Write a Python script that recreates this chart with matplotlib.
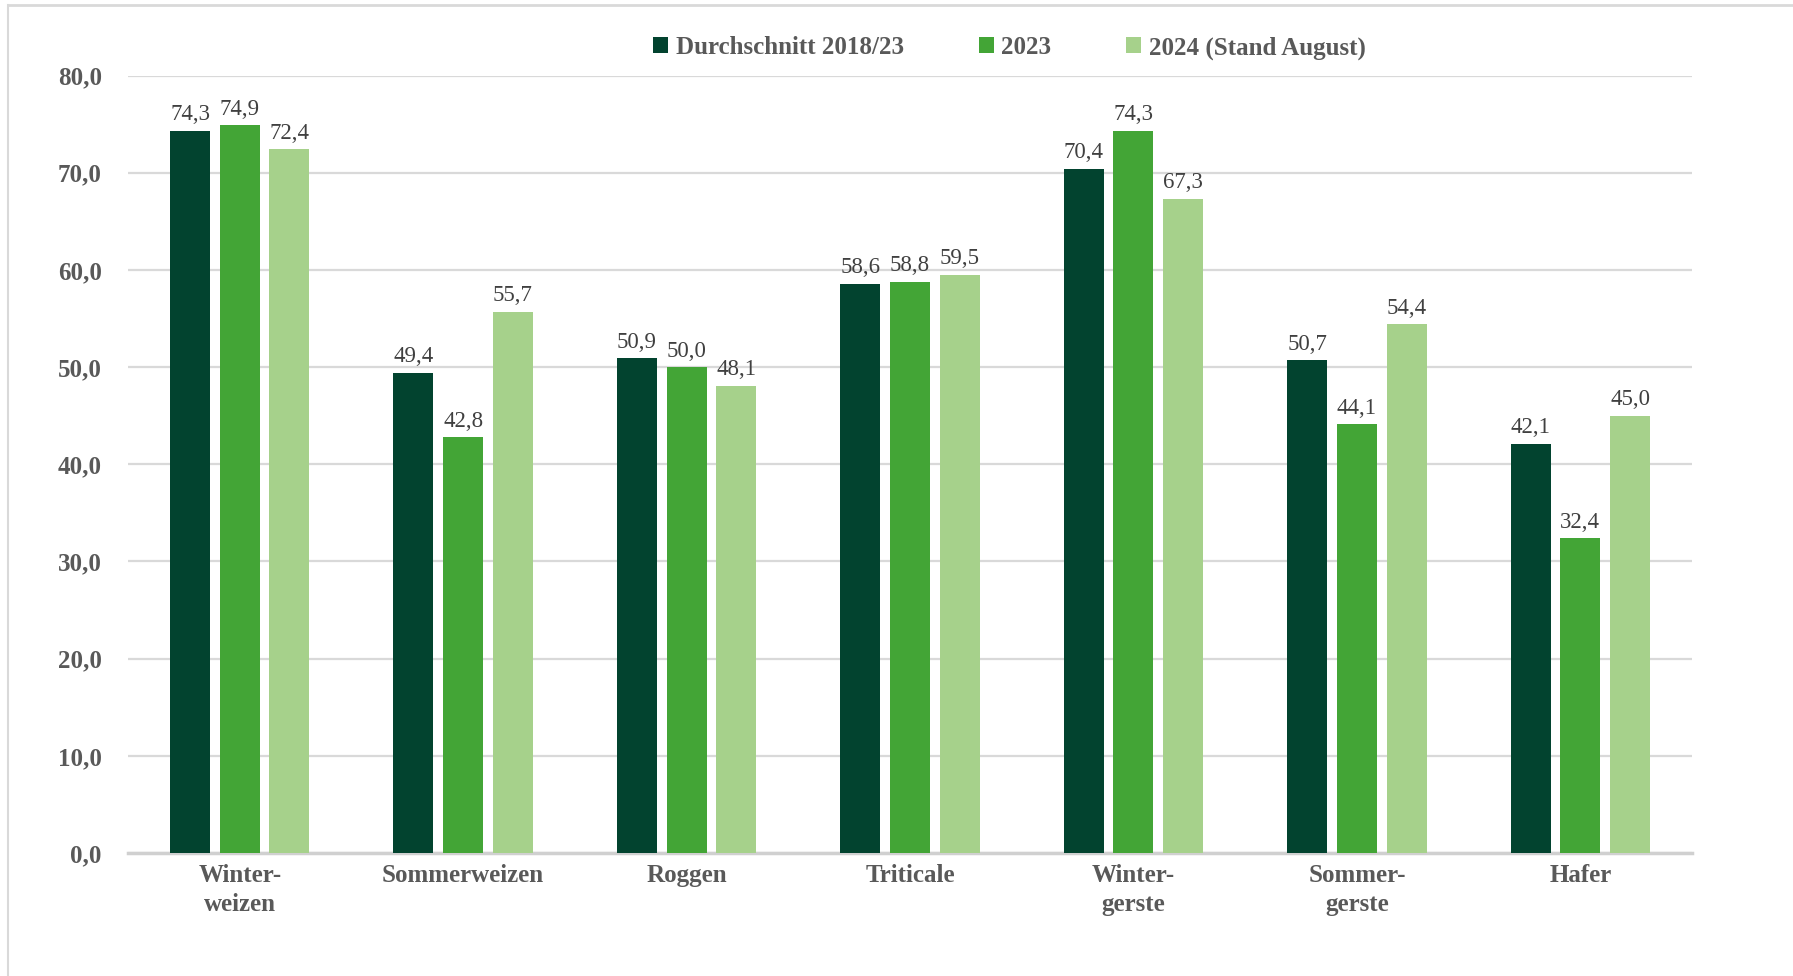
import numpy as np
import matplotlib
matplotlib.use('Agg')
import matplotlib.pyplot as plt
from matplotlib.lines import Line2D

categories = ['Winter-\nweizen', 'Sommerweizen', 'Roggen', 'Triticale',
              'Winter-\ngerste', 'Sommer-\ngerste', 'Hafer']
series_names = ['Durchschnitt 2018/23', '2023', '2024 (Stand August)']
avg_2018_23 = [74.3, 49.4, 50.9, 58.6, 70.4, 50.7, 42.1]
val_2023 = [74.9, 42.8, 50.0, 58.8, 74.3, 44.1, 32.4]
val_2024 = [72.4, 55.7, 48.1, 59.5, 67.3, 54.4, 45.0]
yticks = [0, 10, 20, 30, 40, 50, 60, 70, 80]

colors = ['#02432F', '#43A536', '#A6D18B']
text_col = '#595959'
plt.rcParams['font.family'] = ['Liberation Serif', 'DejaVu Serif']

fig = plt.figure(figsize=(17.93, 9.76), dpi=100)
ax = fig.add_axes([0.0714, 0.126, 0.8723, 0.7966])

x = np.arange(len(categories))
width = 0.179
step = 0.2226
for i, (vals, name) in enumerate(zip([avg_2018_23, val_2023, val_2024], series_names)):
    bars = ax.bar(x + (i - 1) * step, vals, width, color=colors[i], label=name, zorder=3)
    for b, v in zip(bars, vals):
        ax.annotate(f'{v:.1f}'.replace('.', ','), (b.get_x() + b.get_width() / 2, v),
                    xytext=(0, 4), textcoords='offset points', ha='center', va='bottom',
                    fontsize=16.5, color='#404040')

ax.set_xlim(-0.5, len(categories) - 0.5)
ax.set_ylim(0, 80)
ax.set_yticks(yticks)
ax.set_yticklabels([f'{t:.1f}'.replace('.', ',') for t in yticks],
                   fontsize=18, fontweight='bold', color=text_col)
ax.set_xticks(x)
ax.set_xticklabels(categories, fontsize=18, fontweight='bold', color=text_col, linespacing=1.3)
ax.tick_params(axis='both', length=0)
ax.tick_params(axis='y', pad=19)
ax.tick_params(axis='x', pad=8)
ax.yaxis.grid(True, color='#D9D9D9', linewidth=1.6, zorder=0)
ax.set_axisbelow(True)
for s in ['top', 'right', 'left']:
    ax.spines[s].set_visible(False)
ax.spines['bottom'].set_color('#D0D0D0')
ax.spines['bottom'].set_linewidth(2.5)
ax.spines['bottom'].set_zorder(2)

leg = fig.legend(loc='center', bbox_to_anchor=(0.563, 0.951), ncol=3, frameon=False,
                 prop={'size': 18, 'weight': 'bold'}, handlelength=0.6, handleheight=0.6,
                 handletextpad=0.3, columnspacing=3.0)
for t in leg.get_texts():
    t.set_color(text_col)

# frame lines of the original graphic
fig.add_artist(Line2D([0.0045, 0.0045], [0, 0.995], color='#D9D9D9', linewidth=1.5))
fig.add_artist(Line2D([0.0045, 1], [0.995, 0.995], color='#D9D9D9', linewidth=2))

fig.savefig('out.png', dpi=100)
